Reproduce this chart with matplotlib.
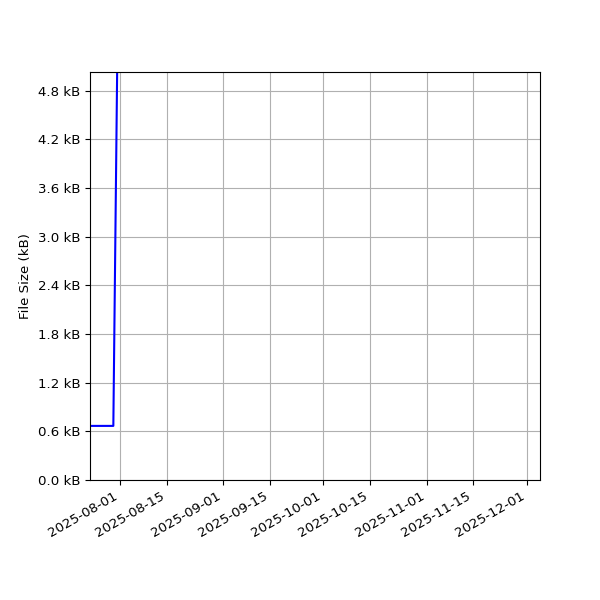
import matplotlib
matplotlib.use('Agg')
import matplotlib.pyplot as plt
import matplotlib.dates as mdates
from matplotlib.ticker import MultipleLocator, FuncFormatter
import pandas as pd

# File size history (kB); values after the jump lie above the visible range
dates = ['2025-07-23', '2025-07-27', '2025-07-30', '2025-08-01',
         '2025-09-01', '2025-10-15', '2025-12-05']
sizes_kb = [0.667, 0.667, 0.667, 8.3, 9.5, 11.0, 12.5]

x = pd.to_datetime(dates)

fig, ax = plt.subplots(figsize=(6, 6), dpi=100)
fig.subplots_adjust(left=0.15, right=0.9, top=0.88, bottom=0.2)

ax.plot(x, sizes_kb, color='blue')

ax.set_xlim(x[0], x[-1])
ax.set_ylim(0, 5.03)
ax.yaxis.set_major_locator(MultipleLocator(0.6))
ax.yaxis.set_major_formatter(FuncFormatter(lambda v, p: f'{v:.1f} kB'))
ax.xaxis.set_major_formatter(mdates.DateFormatter('%Y-%m-%d'))
ax.tick_params(labelsize=9.6)
ax.set_ylabel('File Size (kB)', fontsize=9.6)
ax.grid(True)

for lbl in ax.get_xticklabels():
    lbl.set_rotation(30)
    lbl.set_ha('right')

fig.savefig('out.png', dpi=100)
